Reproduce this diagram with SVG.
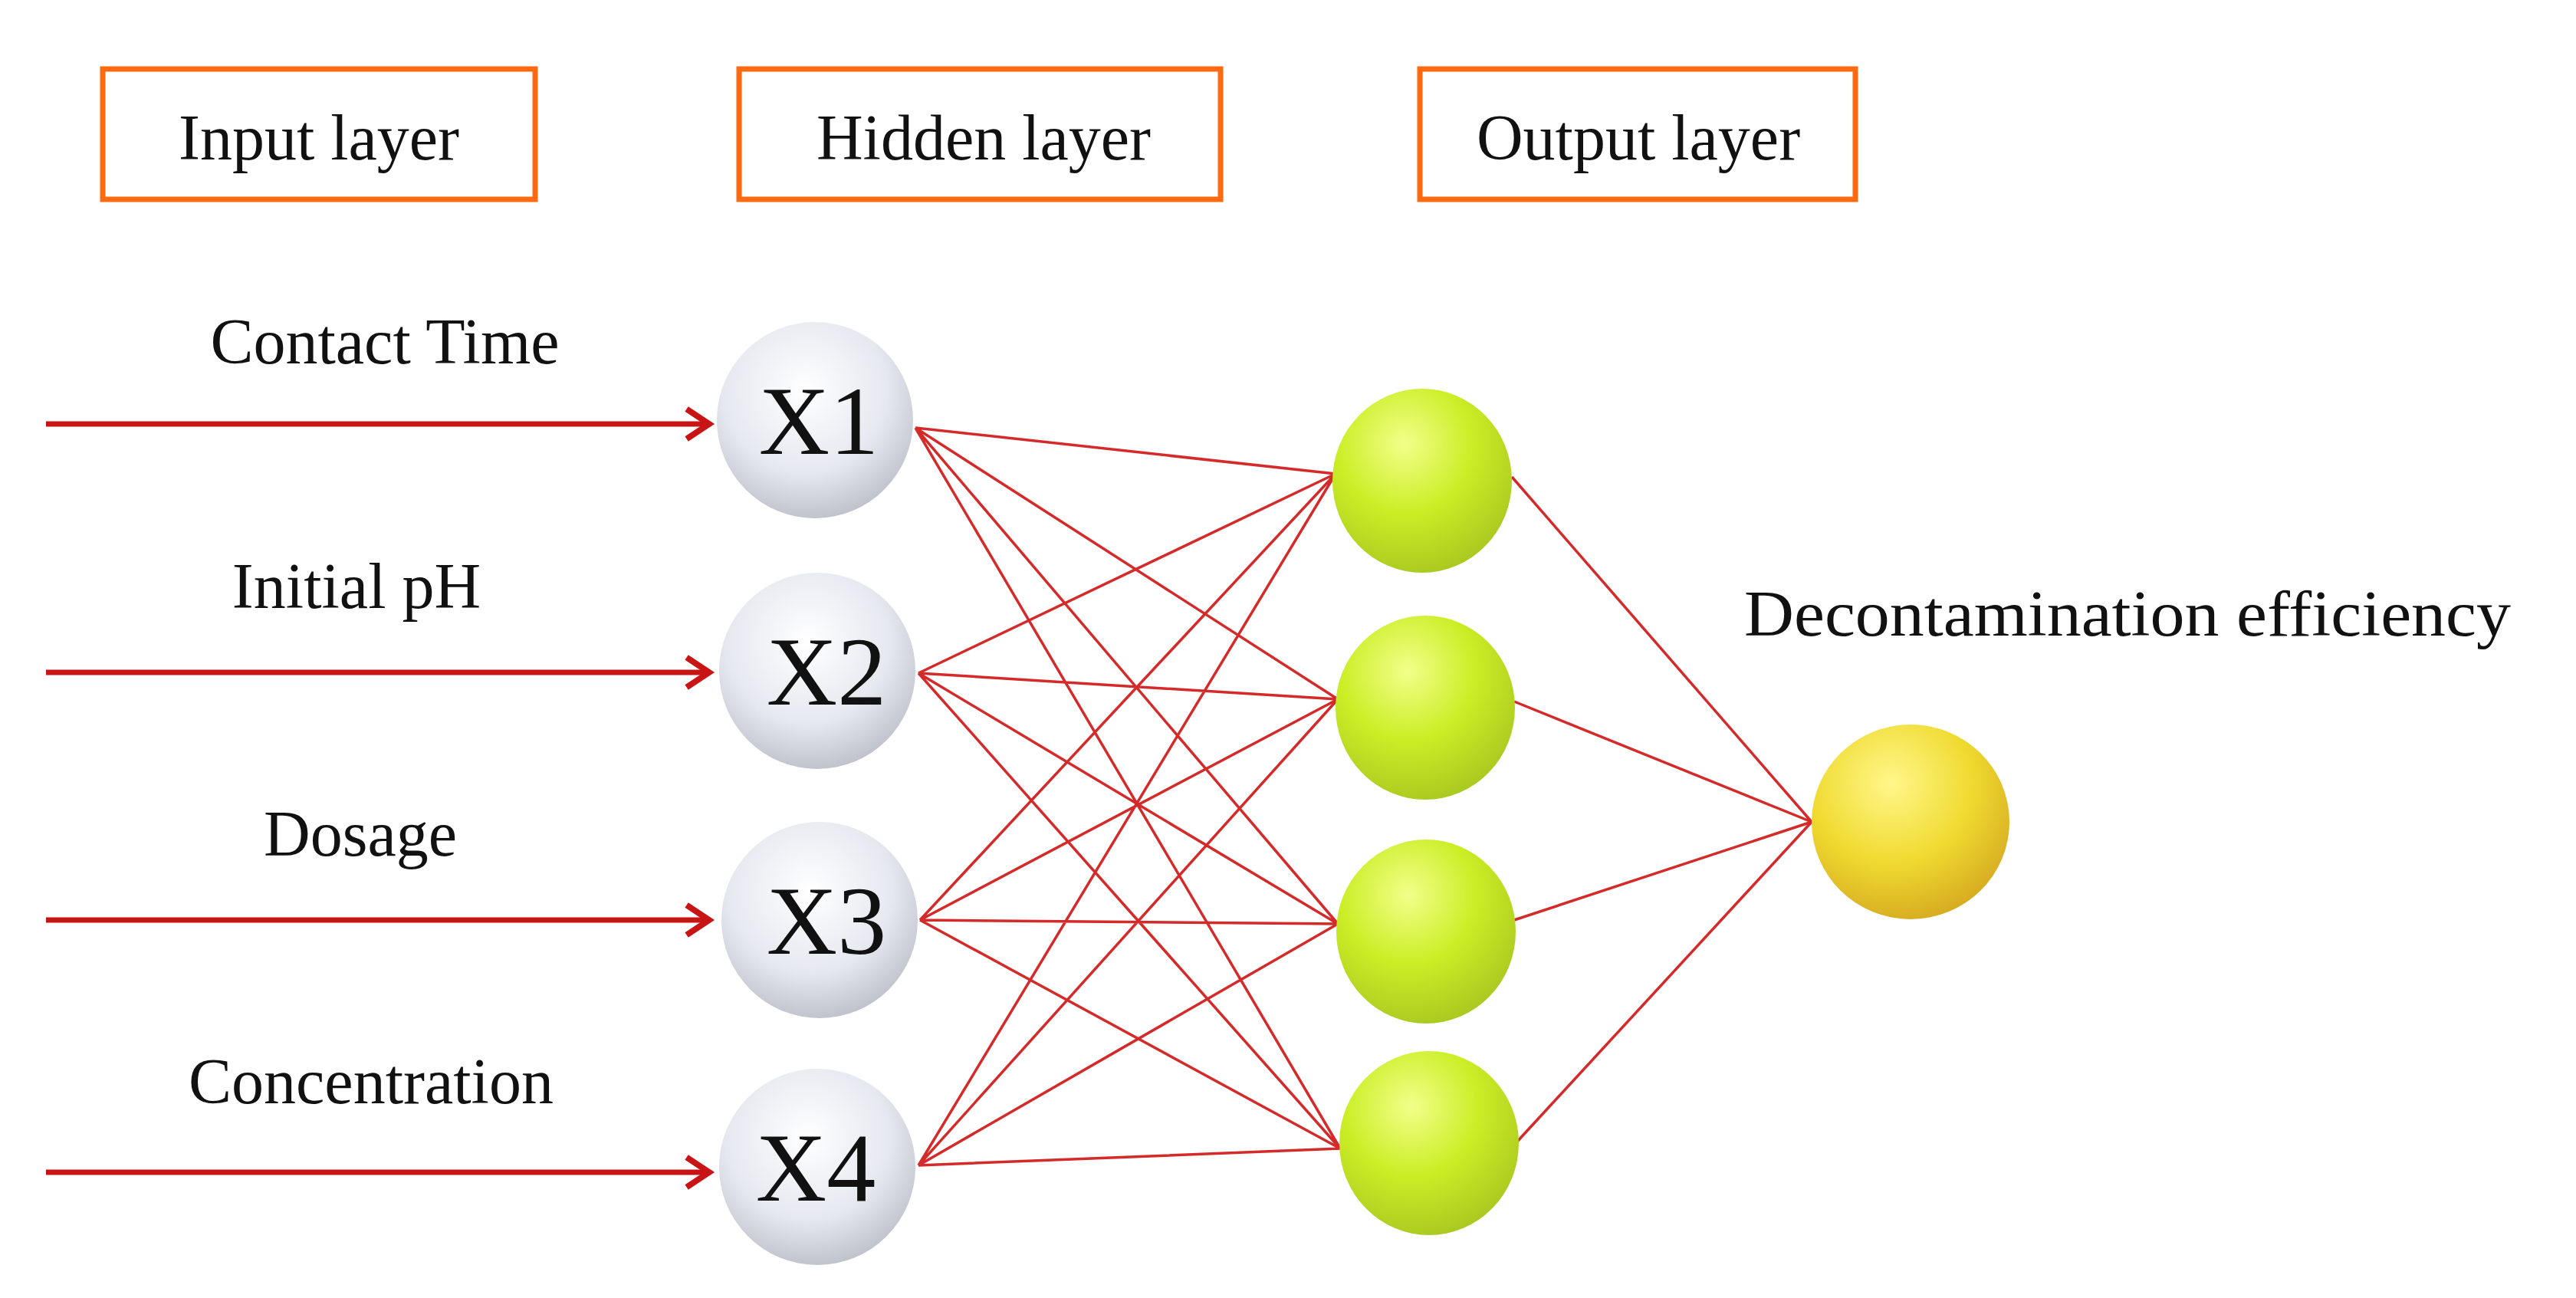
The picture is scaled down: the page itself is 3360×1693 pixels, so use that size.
<svg xmlns="http://www.w3.org/2000/svg" width="3360" height="1693" viewBox="0 0 3360 1693">
<defs>
<style>
.box{fill:#fff;stroke:#ff6a10;stroke-width:7}
.t{font-family:"Liberation Serif",serif;fill:#111}
.lbl{font-size:84px}
.xl{font-size:128px}
.arr{stroke:#c81414;stroke-width:7;fill:none}
.con{stroke:#d42a2a;stroke-width:3.5;fill:none}
</style>
<radialGradient id="gw" cx="0.45" cy="0.35" r="0.7">
<stop offset="0" stop-color="#ffffff"/><stop offset="0.6" stop-color="#e6e8f0"/><stop offset="1" stop-color="#b8bcc6"/>
</radialGradient>
<radialGradient id="gg" cx="0.4" cy="0.3" r="0.75">
<stop offset="0" stop-color="#f2ff8a"/><stop offset="0.5" stop-color="#cbee26"/><stop offset="1" stop-color="#a8c620"/>
</radialGradient>
<radialGradient id="gy" cx="0.4" cy="0.3" r="0.75">
<stop offset="0" stop-color="#fff78a"/><stop offset="0.55" stop-color="#f0da30"/><stop offset="1" stop-color="#d4a820"/>
</radialGradient>
<marker id="ah" viewBox="0 0 10 10" refX="8" refY="5" markerWidth="7" markerHeight="7" orient="auto" markerUnits="strokeWidth">
<path d="M2,1 L8,5 L2,9" fill="none" stroke="#c81414" stroke-width="1.6"/>
</marker>
</defs>
<rect width="3360" height="1693" fill="#fff"/>
<g id="header-input"><rect class="box" x="134" y="90" width="564" height="170"/><text class="t lbl" x="416" y="208" text-anchor="middle">Input layer</text></g>
<g id="header-hidden"><rect class="box" x="964" y="90" width="628" height="170"/><text class="t lbl" x="1283" y="208" text-anchor="middle">Hidden layer</text></g>
<g id="header-output"><rect class="box" x="1852" y="90" width="568" height="170"/><text class="t lbl" x="2137" y="208" text-anchor="middle">Output layer</text></g>
<g id="input-labels">
<text class="t lbl" x="502" y="474" text-anchor="middle">Contact Time</text>
<text class="t lbl" x="465" y="793" text-anchor="middle">Initial pH</text>
<text class="t lbl" x="470" y="1116" text-anchor="middle">Dosage</text>
<text class="t lbl" x="484" y="1439" text-anchor="middle">Concentration</text>
</g>
<g id="connectors">
<line class="arr" x1="60" y1="553" x2="925" y2="553" marker-end="url(#ah)"/>
<line class="arr" x1="60" y1="877" x2="925" y2="877" marker-end="url(#ah)"/>
<line class="arr" x1="60" y1="1200" x2="925" y2="1200" marker-end="url(#ah)"/>
<line class="arr" x1="60" y1="1529" x2="925" y2="1529" marker-end="url(#ah)"/>
<path class="con" d="M1194,558 L1742,618 M1194,558 L1745,912 M1194,558 L1745,1205 M1194,558 L1748,1498
M1198,878 L1742,618 M1198,878 L1745,912 M1198,878 L1745,1205 M1198,878 L1748,1498
M1200,1200 L1742,618 M1200,1200 L1745,912 M1200,1200 L1745,1205 M1200,1200 L1748,1498
M1198,1520 L1742,618 M1198,1520 L1745,912 M1198,1520 L1745,1205 M1198,1520 L1748,1498
M1972,622 L2363,1072 M1975,915 L2363,1072 M1975,1200 L2363,1072 M1978,1490 L2363,1072"/>
</g>
<g id="X1"><ellipse cx="1063" cy="548" rx="128" ry="128" fill="url(#gw)"/><text class="t xl" x="1068" y="592" text-anchor="middle">X1</text></g>
<g id="X2"><ellipse cx="1066" cy="875" rx="128" ry="128" fill="url(#gw)"/><text class="t xl" x="1078" y="919" text-anchor="middle">X2</text></g>
<g id="X3"><ellipse cx="1069" cy="1200" rx="128" ry="128" fill="url(#gw)"/><text class="t xl" x="1078" y="1244" text-anchor="middle">X3</text></g>
<g id="X4"><ellipse cx="1066" cy="1522" rx="128" ry="128" fill="url(#gw)"/><text class="t xl" x="1064" y="1566" text-anchor="middle">X4</text></g>
<g id="H1"><ellipse cx="1855" cy="627" rx="117" ry="120" fill="url(#gg)"/></g>
<g id="H2"><ellipse cx="1859" cy="923" rx="117" ry="120" fill="url(#gg)"/></g>
<g id="H3"><ellipse cx="1860" cy="1215" rx="117" ry="120" fill="url(#gg)"/></g>
<g id="H4"><ellipse cx="1864" cy="1491" rx="117" ry="120" fill="url(#gg)"/></g>
<g id="output"><ellipse cx="2492" cy="1072" rx="129" ry="127" fill="url(#gy)"/>
<text class="t lbl" x="2275" y="829" textLength="1000" lengthAdjust="spacingAndGlyphs">Decontamination efficiency</text></g>
</svg>
